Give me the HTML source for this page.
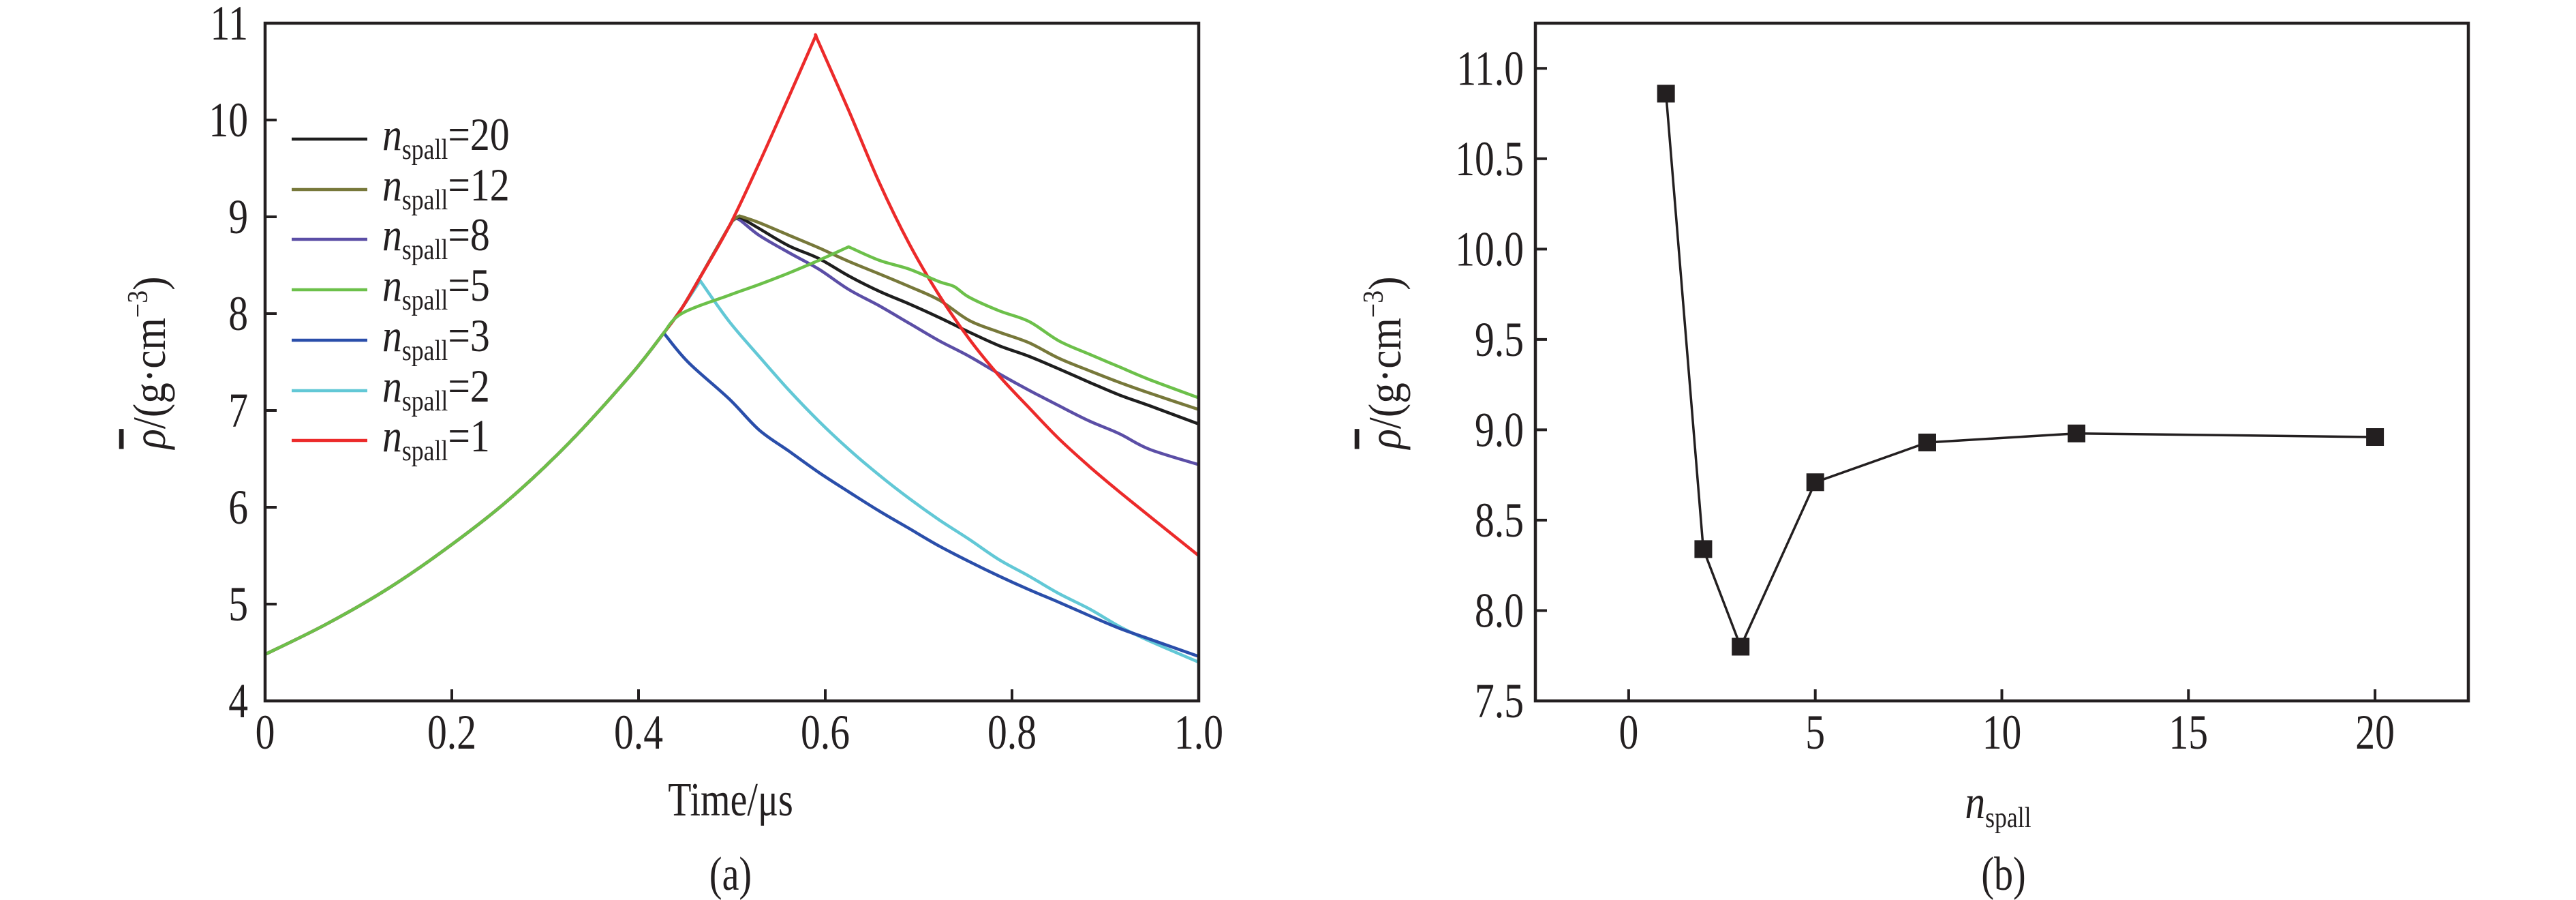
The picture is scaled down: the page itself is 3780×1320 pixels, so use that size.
<!DOCTYPE html>
<html><head><meta charset="utf-8"><style>
html,body{margin:0;padding:0;background:#fff;}
svg{display:block;}
text{font-family:"Liberation Serif","Times New Roman",serif;}
</style></head><body>
<svg id="fig" width="3780" height="1320" viewBox="0 0 3780 1320" xmlns="http://www.w3.org/2000/svg" font-family="Liberation Serif, serif">
<rect width="3780" height="1320" fill="#fff"/>
<g id="pa"></g>
<g id="pb"></g>
</svg>
<script>
// ---- Panel (a) data ----
const riseT = [0, 0.065, 0.13, 0.195, 0.26, 0.326, 0.391, 0.427];
const riseV = [4.48, 4.79, 5.15, 5.58, 6.07, 6.67, 7.36, 7.80];
const redRiseT = [0.446, 0.465, 0.497, 0.529, 0.561, 0.590];
const redRiseV = [8.05, 8.36, 8.90, 9.55, 10.24, 10.875];
const tailT = [0.529, 0.561, 0.593, 0.625, 0.658, 0.690, 0.722, 0.754, 0.786, 0.818, 0.850, 0.883, 0.915, 0.947, 1.0];
const n1Fall = [null, null, 10.80, 10.1, 9.35, 8.72, 8.19, 7.74, 7.36, 7.03, 6.71, 6.42, 6.16, 5.91, 5.50];
const n20Tail = [8.88, 8.70, 8.57, 8.39, 8.23, 8.10, 7.96, 7.81, 7.67, 7.56, 7.43, 7.29, 7.16, 7.05, 6.86];
const n12Tail = [8.94, 8.81, 8.68, 8.54, 8.41, 8.28, 8.14, 7.93, 7.81, 7.70, 7.54, 7.41, 7.29, 7.18, 7.01];
const n8Tail = [8.81, 8.63, 8.46, 8.25, 8.08, 7.90, 7.72, 7.56, 7.38, 7.21, 7.05, 6.89, 6.76, 6.60, 6.44];
const n5T = [0.446, 0.497, 0.529, 0.561, 0.593, 0.625, 0.658, 0.690, 0.722, 0.738, 0.754, 0.786, 0.818, 0.850, 0.883, 0.915, 0.947, 1.0];
const n5V = [8.00, 8.19, 8.30, 8.42, 8.55, 8.69, 8.55, 8.46, 8.33, 8.28, 8.17, 8.03, 7.92, 7.72, 7.58, 7.45, 7.32, 7.13];
const n3T = [0.453, 0.497, 0.529, 0.561, 0.593, 0.625, 0.658, 0.690, 0.722, 0.754, 0.786, 0.818, 0.850, 0.883, 0.915, 0.947, 1.0];
const n3V = [7.50, 7.12, 6.80, 6.58, 6.36, 6.16, 5.96, 5.78, 5.60, 5.44, 5.29, 5.15, 5.02, 4.88, 4.75, 4.64, 4.46];
const n2T = [0.466, 0.497, 0.529, 0.561, 0.593, 0.625, 0.658, 0.690, 0.722, 0.754, 0.786, 0.818, 0.850, 0.883, 0.915, 0.947, 1.0];
const n2V = [8.34, 7.92, 7.56, 7.21, 6.89, 6.60, 6.33, 6.09, 5.87, 5.67, 5.46, 5.29, 5.11, 4.95, 4.77, 4.62, 4.40];
const peakT = [0.502, 0.508];
const peakV20 = [8.97, 9.0];
const peakV12 = [8.97, 9.01];
const peakV8 = [8.97, 8.97];
const xTicksA = [0, 0.2, 0.4, 0.6, 0.8, 1.0];
const xTickLabelsA = ["0", "0.2", "0.4", "0.6", "0.8", "1.0"];
const yTicksA = [4, 5, 6, 7, 8, 9, 10, 11];
const legendLabels = ["20", "12", "8", "5", "3", "2", "1"];
// ---- Panel (b) data ----
const nSpall = [1, 2, 3, 5, 8, 12, 20];
const rhoMax = [10.86, 8.34, 7.80, 8.71, 8.93, 8.98, 8.96];
const xTicksB = [0, 5, 10, 15, 20];
const yTicksB = [7.5, 8.0, 8.5, 9.0, 9.5, 10.0, 10.5, 11.0];
const yTickLabelsB = ["7.5", "8.0", "8.5", "9.0", "9.5", "10.0", "10.5", "11.0"];

const NS = "http://www.w3.org/2000/svg";
const FONT = '"Liberation Serif", serif';
function mk(tag, attrs, parent) {
  const e = document.createElementNS(NS, tag);
  for (const k in attrs) e.setAttribute(k, attrs[k]);
  parent.appendChild(e);
  return e;
}
function txt(parent, x, y, s, size, anchor, sx) {
  const g = mk('g', {transform: `translate(${x},${y}) scale(${sx || 0.8},1)`}, parent);
  const t = mk('text', {x: 0, y: 0, 'font-size': size, 'font-family': FONT, 'text-anchor': anchor, fill: '#231f20'}, g);
  t.textContent = s;
  return t;
}
// smooth path through points (Catmull-Rom), breaks at sharp vertices flagged
function smooth(pts, sharp) {
  let d = 'M' + pts[0][0].toFixed(1) + ' ' + pts[0][1].toFixed(1);
  for (let i = 0; i < pts.length - 1; i++) {
    const p0 = pts[i - 1] && !sharp.has(i) ? pts[i - 1] : pts[i];
    const p1 = pts[i], p2 = pts[i + 1];
    const p3 = pts[i + 2] && !sharp.has(i + 1) ? pts[i + 2] : p2;
    const c1 = [p1[0] + (p2[0] - p0[0]) / 6, p1[1] + (p2[1] - p0[1]) / 6];
    const c2 = [p2[0] - (p3[0] - p1[0]) / 6, p2[1] - (p3[1] - p1[1]) / 6];
    d += `C${c1[0].toFixed(1)} ${c1[1].toFixed(1)} ${c2[0].toFixed(1)} ${c2[1].toFixed(1)} ${p2[0].toFixed(1)} ${p2[1].toFixed(1)}`;
  }
  return d;
}

// ---- Panel (a) ----
const pa = document.getElementById('pa');
const AX0 = 389, AX1 = 1759, AY0 = 1028, AY1 = 34;
const xa = t => AX0 + (t - 0) / 1.0 * (AX1 - AX0);
const ya = v => AY0 - (v - 4) / 7 * (AY0 - AY1);
const colors = {n20: '#1e1e1e', n12: '#77783a', n8: '#5b4ea6', n5: '#6cc04a', n3: '#2a4eaa', n2: '#62c8d6', n1: '#ec2a2a'};
const redT = riseT.concat(redRiseT), redV = riseV.concat(redRiseV);
const upTo497T = riseT.concat([0.446, 0.465, 0.497]);
const upTo497V = riseV.concat([8.05, 8.36, 8.90]);
const series = [
  {k: 'n2', t: riseT.concat([0.446]).concat(n2T), v: riseV.concat([8.05]).concat(n2V), sharpT: [0.466]},
  {k: 'n3', t: riseT.concat(n3T), v: riseV.concat(n3V), sharpT: [0.427]},
  {k: 'n8', t: upTo497T.concat(peakT, tailT), v: upTo497V.concat(peakV8, n8Tail), sharpT: [0.502]},
  {k: 'n20', t: upTo497T.concat(peakT, tailT), v: upTo497V.concat(peakV20, n20Tail), sharpT: [0.508]},
  {k: 'n12', t: upTo497T.concat(peakT, tailT), v: upTo497V.concat(peakV12, n12Tail), sharpT: [0.508]},
  {k: 'n1', t: redT.concat(tailT), v: redV.concat(n1Fall), sharpT: [0.590]},
  {k: 'n5', t: riseT.concat(n5T), v: riseV.concat(n5V), sharpT: [0.427, 0.625]}
];
series.forEach(s => {
  const pts = [], sharp = new Set();
  s.t.forEach((t, i) => {
    if (s.v[i] == null) return;
    if (s.sharpT.includes(t)) sharp.add(pts.length);
    pts.push([xa(t), ya(s.v[i])]);
  });
  const p = mk('path', {d: smooth(pts, sharp), fill: 'none', stroke: colors[s.k], 'stroke-width': 4.5, 'stroke-linejoin': 'round'}, pa);
  
  
});
const fa = mk('rect', {x: AX0, y: AY1, width: AX1 - AX0, height: AY0 - AY1, fill: 'none', stroke: '#231f20', 'stroke-width': 4.5}, pa);


xTicksA.forEach((t, i) => {
  const l = mk('line', {x1: xa(t), x2: xa(t), y1: AY0, y2: AY0 - 17, stroke: '#231f20', 'stroke-width': 4}, pa);
  
  
  const lb = txt(pa, xa(t), 1098, xTickLabelsA[i], 72, 'middle');
  
  
});
yTicksA.forEach(v => {
  const l = mk('line', {x1: AX0, x2: AX0 + 17, y1: ya(v), y2: ya(v), stroke: '#231f20', 'stroke-width': 4}, pa);
  
  
  const lb = txt(pa, 364, ya(v) + 24, String(v), 72, 'end');
  
  
});
const legKeys = ['n20', 'n12', 'n8', 'n5', 'n3', 'n2', 'n1'];
const legY = [204, 278, 351, 425, 499, 573, 646];
legKeys.forEach((k, i) => {
  const g = mk('g', {}, pa);
  
  
  mk('line', {x1: 428, x2: 539, y1: legY[i], y2: legY[i], stroke: colors[k], 'stroke-width': 4.5}, g);
  const gt = mk('g', {transform: `translate(561,${legY[i] + 16}) scale(0.85,1)`}, g);
  const t = mk('text', {x: 0, y: 0, 'font-size': 68, 'font-family': FONT, fill: '#231f20'}, gt);
  const a = mk('tspan', {'font-style': 'italic'}, t); a.textContent = 'n';
  const b = mk('tspan', {'font-size': 42, dy: 13}, t); b.textContent = 'spall';
  const c = mk('tspan', {dy: -13}, t); c.textContent = '=' + legendLabels[i];
});
let tA = txt(pa, 1072, 1196, 'Time/μs', 70, 'middle');


function yTitle(parent, x, y, name) {
  const g = mk('g', {transform: `translate(${x},${y}) rotate(-90) scale(0.9,1)`}, parent);
  
  
  const t = mk('text', {x: 0, y: 0, 'font-size': 68, 'font-family': FONT, 'text-anchor': 'middle', fill: '#231f20'}, g);
  const a = mk('tspan', {'font-style': 'italic', 'text-decoration': 'overline'}, t); a.textContent = 'ρ';
  const b = mk('tspan', {}, t); b.textContent = '/(g·cm';
  const c = mk('tspan', {'font-size': 42, dy: -26}, t); c.textContent = '−3';
  const d = mk('tspan', {dy: 26}, t); d.textContent = ')';
}
yTitle(pa, 242, 532, 'y-axis-title-a');
let capA = txt(pa, 1072, 1305, '(a)', 70, 'middle');



// ---- Panel (b) ----
const pb = document.getElementById('pb');
const BX0 = 2253, BX1 = 3622, BY0 = 1028, BY1 = 34;
const xMinB = -2.5, xMaxB = 22.5, yMinB = 7.5, yMaxB = 11.25;
const xb = n => BX0 + (n - xMinB) / (xMaxB - xMinB) * (BX1 - BX0);
const yb = v => BY0 - (v - yMinB) / (yMaxB - yMinB) * (BY0 - BY1);
const lb = mk('path', {d: nSpall.map((n, i) => (i ? 'L' : 'M') + xb(n).toFixed(1) + ' ' + yb(rhoMax[i]).toFixed(1)).join(''), fill: 'none', stroke: '#231f20', 'stroke-width': 3.5}, pb);


nSpall.forEach((n, i) => {
  const r = mk('rect', {x: xb(n) - 13, y: yb(rhoMax[i]) - 13, width: 26, height: 26, fill: '#231f20'}, pb);
  
  
});
const fb = mk('rect', {x: BX0, y: BY1, width: BX1 - BX0, height: BY0 - BY1, fill: 'none', stroke: '#231f20', 'stroke-width': 4.5}, pb);


xTicksB.forEach(n => {
  const l = mk('line', {x1: xb(n), x2: xb(n), y1: BY0, y2: BY0 - 17, stroke: '#231f20', 'stroke-width': 4}, pb);
  
  
  const t = txt(pb, xb(n), 1098, String(n), 72, 'middle');
  
  
});
yTicksB.forEach((v, i) => {
  const l = mk('line', {x1: BX0, x2: BX0 + 17, y1: yb(v), y2: yb(v), stroke: '#231f20', 'stroke-width': 4}, pb);
  
  
  const t = txt(pb, 2236, yb(v) + 24, yTickLabelsB[i], 72, 'end');
  
  
});
{
  const g = mk('g', {transform: 'translate(2932,1200) scale(0.85,1)'}, pb);
  
  
  const t = mk('text', {x: 0, y: 0, 'font-size': 70, 'font-family': FONT, 'text-anchor': 'middle', fill: '#231f20'}, g);
  const a = mk('tspan', {'font-style': 'italic'}, t); a.textContent = 'n';
  const b = mk('tspan', {'font-size': 42, dy: 13}, t); b.textContent = 'spall';
}
yTitle(pb, 2055, 532, 'y-axis-title-b');
let capB = txt(pb, 2940, 1305, '(b)', 70, 'middle');


</script>
</body></html>
